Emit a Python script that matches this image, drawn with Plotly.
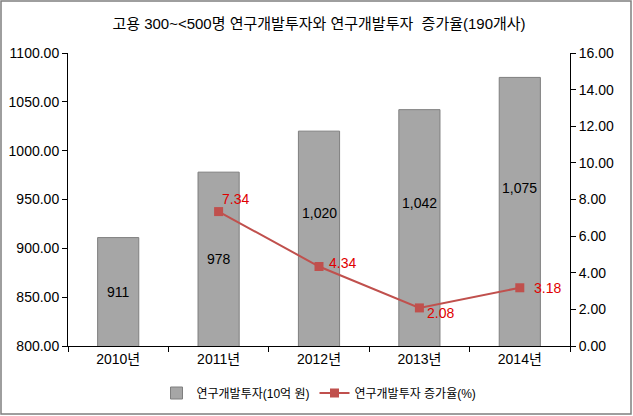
import plotly.graph_objects as go

years = ["2010년", "2011년", "2012년", "2013년", "2014년"]
investment = [911, 978, 1020, 1042, 1075]
growth_years = ["2011년", "2012년", "2013년", "2014년"]
growth = [7.34, 4.34, 2.08, 3.18]

title_text = "고용 300~<500명 연구개발투자와 연구개발투자  증가율(190개사)"
bar_name = "연구개발투자(10억 원)"
line_name = "연구개발투자 증가율(%)"

FONT = "Liberation Sans, Arial, Noto Sans CJK KR, sans-serif"
W, H = 633, 416
L, R, T, B = 68, 63, 53, 70
PW, PH = W - L - R, H - T - B

fig = go.Figure()
fig.add_trace(go.Bar(
    x=years, y=investment, name=bar_name,
    marker=dict(color="#A6A6A6", line=dict(color="#7F7F7F", width=1)),
    width=0.41, yaxis="y",
))
fig.add_trace(go.Scatter(
    x=growth_years, y=growth, name=line_name, yaxis="y2",
    mode="lines+markers",
    line=dict(color="#C0504D", width=2),
    marker=dict(symbol="square", size=9, color="#C0504D"),
))

# bar data labels (centred in bar, some nudged up)
label_shift = [0, 0, 26, 25, 24]
base = 800
for x, v, s in zip(years, investment, label_shift):
    fig.add_annotation(
        x=x, y=(v + base) / 2, yref="y", text=f"{v:,}", showarrow=False,
        yshift=s, font=dict(size=14, color="black", family=FONT),
    )

# line data labels
line_label_shift = [(1, 13), (8, 4), (6, -5), (12, 0)]
for x, v, (dx, dy) in zip(growth_years, growth, line_label_shift):
    fig.add_annotation(
        x=x, y=v, yref="y2", text=f"{v:.2f}", showarrow=False,
        xanchor="left", xshift=dx, yshift=dy,
        font=dict(size=14, color="#E00000", family=FONT),
    )

# outer border
fig.add_shape(
    type="rect", xref="paper", yref="paper",
    x0=(1 - L) / PW, x1=(631 - L) / PW,
    y0=(H - 414 - B) / PH, y1=(H - 1 - B) / PH,
    line=dict(color="#7F7F7F", width=1.5), fillcolor="rgba(0,0,0,0)",
)

fig.update_layout(
    width=W, height=H,
    margin=dict(l=L, r=R, t=T, b=B, autoexpand=False),
    paper_bgcolor="white", plot_bgcolor="white",
    font=dict(family=FONT, size=14, color="black"),
    title=dict(text=title_text, x=0.5, xref="paper", y=1 - 24 / H, yanchor="middle",
               font=dict(size=15, family=FONT, color="black")),
    showlegend=True,
    legend=dict(orientation="h", x=0.5, xanchor="center", y=-47 / PH, yanchor="middle",
                font=dict(size=12, family=FONT), itemwidth=30, tracegroupgap=0),
    xaxis=dict(
        showline=True, linecolor="black", linewidth=1, automargin=False,
        ticks="outside", ticklen=5, tickcolor="black", tickson="boundaries",
        showgrid=False, tickfont=dict(size=14), range=[-0.5, 4.5],
    ),
    yaxis=dict(
        range=[800, 1100], dtick=50, tickformat=".2f", automargin=False,
        showline=True, linecolor="black", linewidth=1,
        ticks="outside", ticklen=5, tickcolor="black",
        showgrid=False, zeroline=False, tickfont=dict(size=14),
    ),
    yaxis2=dict(
        range=[0, 16], dtick=2, tickformat=".2f", overlaying="y", side="right",
        showline=True, linecolor="black", linewidth=1, automargin=False,
        ticks="outside", ticklen=5, tickcolor="black",
        showgrid=False, zeroline=False, tickfont=dict(size=14),
    ),
)

fig.write_html(
    "out.html",
    config={"displayModeBar": False},
    post_script="document.body.style.margin='0';document.body.style.overflow='hidden';",
)
